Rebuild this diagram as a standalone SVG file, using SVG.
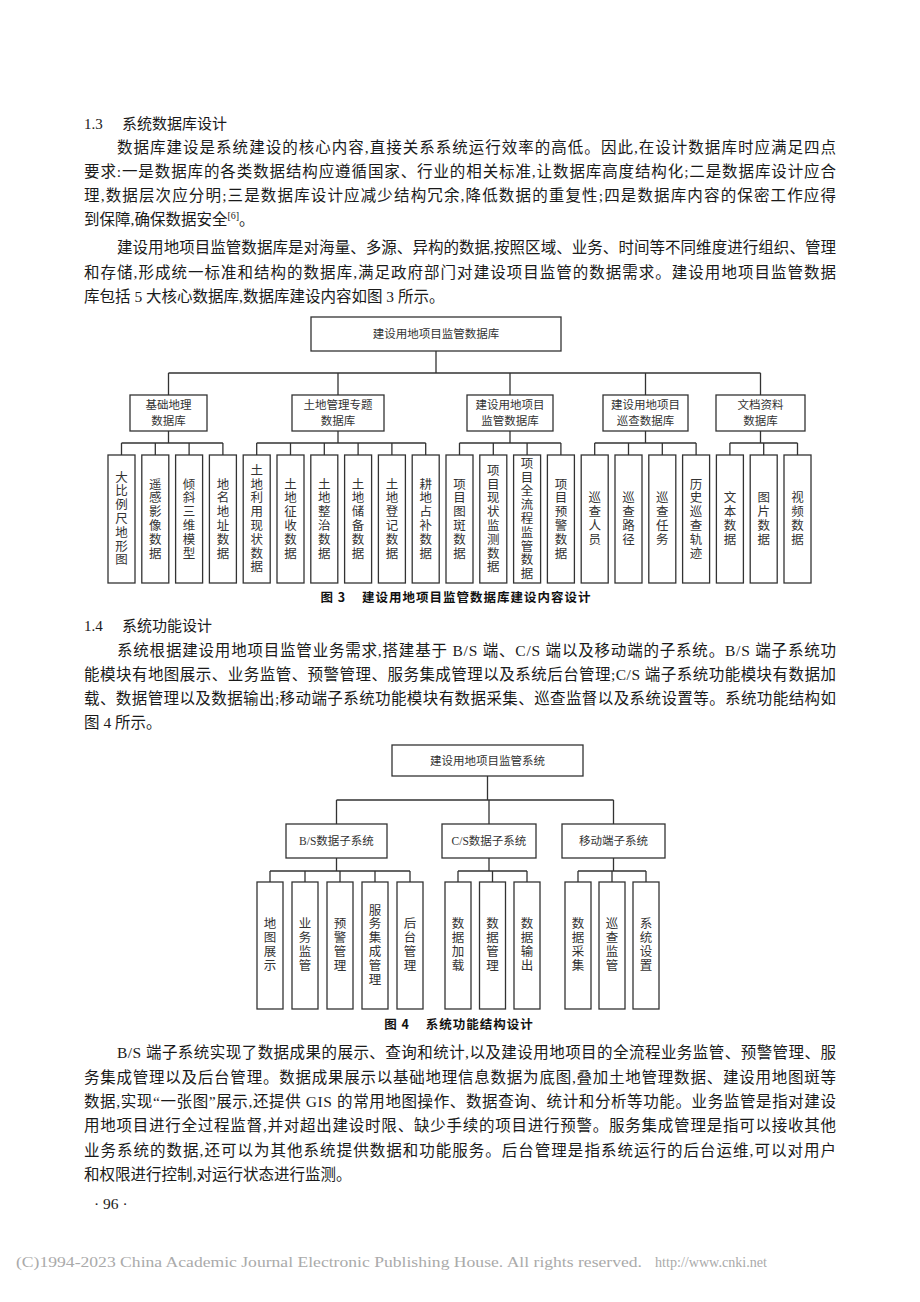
<svg xmlns="http://www.w3.org/2000/svg" width="920" height="1302" viewBox="0 0 920 1302">
<style>
.b{font-family:"Liberation Serif","Noto Sans CJK SC",serif;font-size:15.5px;fill:#1a1a1a}
.h{font-family:"Liberation Serif","Noto Sans CJK SC",serif;font-size:15px;fill:#1a1a1a}
.bx{fill:#fff;stroke:#333;stroke-width:1.3}
.ln{fill:none;stroke:#333;stroke-width:1.3}
.t{font-family:"Liberation Serif","Noto Sans CJK SC",serif;font-size:11.5px;fill:#333;text-anchor:middle}
.v{font-family:"Noto Sans CJK SC",sans-serif;font-size:12.5px;fill:#333;text-anchor:middle;writing-mode:vertical-rl;letter-spacing:1.3px}
.cap{font-family:"Noto Sans CJK SC",sans-serif;font-size:12.5px;font-weight:bold;fill:#111;text-anchor:middle;letter-spacing:1px}
.f{font-family:"Liberation Serif",serif;font-size:15px;fill:#aaa}
</style>
<rect width="920" height="1302" fill="#fff"/>

<g id="text-13">
<text class="h" x="84" y="129">1.3<tspan x="122">系统数据库设计</tspan></text>
<text class="b" x="117" y="153" textLength="719" lengthAdjust="spacing">数据库建设是系统建设的核心内容,直接关系系统运行效率的高低。因此,在设计数据库时应满足四点</text>
<text class="b" x="84" y="177" textLength="752" lengthAdjust="spacing">要求:一是数据库的各类数据结构应遵循国家、行业的相关标准,让数据库高度结构化;二是数据库设计应合</text>
<text class="b" x="84" y="201" textLength="752" lengthAdjust="spacing">理,数据层次应分明;三是数据库设计应减少结构冗余,降低数据的重复性;四是数据库内容的保密工作应得</text>
<text class="b" x="84" y="225">到保障,确保数据安全<tspan font-size="10" dy="-6">[6]</tspan><tspan dy="6">。</tspan></text>
<text class="b" x="117" y="253" textLength="719" lengthAdjust="spacing">建设用地项目监管数据库是对海量、多源、异构的数据,按照区域、业务、时间等不同维度进行组织、管理</text>
<text class="b" x="84" y="278" textLength="752" lengthAdjust="spacing">和存储,形成统一标准和结构的数据库,满足政府部门对建设项目监管的数据需求。建设用地项目监管数据</text>
<text class="b" x="84" y="302">库包括 5 大核心数据库,数据库建设内容如图 3 所示。</text>
</g>

<g id="connectors-fig3">
<path class="ln" d="M436 351V373M168.5 373H760.5M168.5 373V395M338 373V395M510 373V395M645.5 373V395M760.5 373V395"/>
<path class="ln" d="M168.5 431V443M121.5 443H222.9M121.5 443V455M155.3 443V455M189.1 443V455M222.9 443V455"/>
<path class="ln" d="M338 431V443M256.7 443H425.7M256.7 443V455M290.5 443V455M324.3 443V455M358.1 443V455M391.9 443V455M425.7 443V455"/>
<path class="ln" d="M510 431V443M459.5 443H560.9M459.5 443V455M493.3 443V455M527.1 443V455M560.9 443V455"/>
<path class="ln" d="M645.5 431V443M594.7 443H696.1M594.7 443V455M628.5 443V455M662.3 443V455M696.1 443V455"/>
<path class="ln" d="M760.5 431V443M729.9 443H797.5M729.9 443V455M763.7 443V455M797.5 443V455"/>
</g>

<g id="f3-root"><rect class="bx" x="311" y="317" width="250" height="34"/><text class="t" x="436" y="338">建设用地项目监管数据库</text></g>
<g id="f3-jcdl"><rect class="bx" x="130" y="395" width="77" height="36"/><text class="t" x="168.5" y="409">基础地理</text><text class="t" x="168.5" y="425">数据库</text></g>
<g id="f3-tdgl"><rect class="bx" x="292" y="395" width="92" height="36"/><text class="t" x="338" y="409">土地管理专题</text><text class="t" x="338" y="425">数据库</text></g>
<g id="f3-jgsjk"><rect class="bx" x="467" y="395" width="86" height="36"/><text class="t" x="510" y="409">建设用地项目</text><text class="t" x="510" y="425">监管数据库</text></g>
<g id="f3-xcsjk"><rect class="bx" x="603" y="395" width="85" height="36"/><text class="t" x="645.5" y="409">建设用地项目</text><text class="t" x="645.5" y="425">巡查数据库</text></g>
<g id="f3-wdzl"><rect class="bx" x="716" y="395" width="89" height="36"/><text class="t" x="760.5" y="409">文档资料</text><text class="t" x="760.5" y="425">数据库</text></g>

<g id="f3-l1"><rect class="bx" x="108" y="455" width="27" height="128"/><text class="v" x="121.5" y="519">大比例尺地形图</text></g>
<g id="f3-l2"><rect class="bx" x="141.8" y="455" width="27" height="128"/><text class="v" x="155.3" y="519">遥感影像数据</text></g>
<g id="f3-l3"><rect class="bx" x="175.6" y="455" width="27" height="128"/><text class="v" x="189.1" y="519">倾斜三维模型</text></g>
<g id="f3-l4"><rect class="bx" x="209.4" y="455" width="27" height="128"/><text class="v" x="222.9" y="519">地名地址数据</text></g>
<g id="f3-l5"><rect class="bx" x="243.2" y="455" width="27" height="128"/><text class="v" x="256.7" y="519">土地利用现状数据</text></g>
<g id="f3-l6"><rect class="bx" x="277" y="455" width="27" height="128"/><text class="v" x="290.5" y="519">土地征收数据</text></g>
<g id="f3-l7"><rect class="bx" x="310.8" y="455" width="27" height="128"/><text class="v" x="324.3" y="519">土地整治数据</text></g>
<g id="f3-l8"><rect class="bx" x="344.6" y="455" width="27" height="128"/><text class="v" x="358.1" y="519">土地储备数据</text></g>
<g id="f3-l9"><rect class="bx" x="378.4" y="455" width="27" height="128"/><text class="v" x="391.9" y="519">土地登记数据</text></g>
<g id="f3-l10"><rect class="bx" x="412.2" y="455" width="27" height="128"/><text class="v" x="425.7" y="519">耕地占补数据</text></g>
<g id="f3-l11"><rect class="bx" x="446" y="455" width="27" height="128"/><text class="v" x="459.5" y="519">项目图斑数据</text></g>
<g id="f3-l12"><rect class="bx" x="479.8" y="455" width="27" height="128"/><text class="v" x="493.3" y="519">项目现状监测数据</text></g>
<g id="f3-l13"><rect class="bx" x="513.6" y="455" width="27" height="128"/><text class="v" x="527.1" y="519">项目全流程监管数据</text></g>
<g id="f3-l14"><rect class="bx" x="547.4" y="455" width="27" height="128"/><text class="v" x="560.9" y="519">项目预警数据</text></g>
<g id="f3-l15"><rect class="bx" x="581.2" y="455" width="27" height="128"/><text class="v" x="594.7" y="519">巡查人员</text></g>
<g id="f3-l16"><rect class="bx" x="615" y="455" width="27" height="128"/><text class="v" x="628.5" y="519">巡查路径</text></g>
<g id="f3-l17"><rect class="bx" x="648.8" y="455" width="27" height="128"/><text class="v" x="662.3" y="519">巡查任务</text></g>
<g id="f3-l18"><rect class="bx" x="682.6" y="455" width="27" height="128"/><text class="v" x="696.1" y="519">历史巡查轨迹</text></g>
<g id="f3-l19"><rect class="bx" x="716.4" y="455" width="27" height="128"/><text class="v" x="729.9" y="519">文本数据</text></g>
<g id="f3-l20"><rect class="bx" x="750.2" y="455" width="27" height="128"/><text class="v" x="763.7" y="519">图片数据</text></g>
<g id="f3-l21"><rect class="bx" x="784" y="455" width="27" height="128"/><text class="v" x="797.5" y="519">视频数据</text></g>

<text class="cap" x="456" y="602">图 3<tspan dx="16">建设用地项目监管数据库建设内容设计</tspan></text>

<g id="text-14">
<text class="h" x="84" y="631">1.4<tspan x="122">系统功能设计</tspan></text>
<text class="b" x="117" y="656" textLength="719" lengthAdjust="spacing">系统根据建设用地项目监管业务需求,搭建基于 B/S 端、C/S 端以及移动端的子系统。B/S 端子系统功</text>
<text class="b" x="84" y="680" textLength="752" lengthAdjust="spacing">能模块有地图展示、业务监管、预警管理、服务集成管理以及系统后台管理;C/S 端子系统功能模块有数据加</text>
<text class="b" x="84" y="704" textLength="752" lengthAdjust="spacing">载、数据管理以及数据输出;移动端子系统功能模块有数据采集、巡查监督以及系统设置等。系统功能结构如</text>
<text class="b" x="84" y="728">图 4 所示。</text>
</g>

<g id="connectors-fig4">
<path class="ln" d="M487.5 776V800M336.5 800H613.5M336.5 800V824M489 800V824M613.5 800V824"/>
<path class="ln" d="M336.5 858V871M270 871H410M270 871V882M305 871V882M340 871V882M375 871V882M410 871V882"/>
<path class="ln" d="M489 858V871M458 871H527M458 871V882M492.5 871V882M527 871V882"/>
<path class="ln" d="M613.5 858V871M578 871H646M578 871V882M612 871V882M646 871V882"/>
</g>

<g id="f4-root"><rect class="bx" x="392" y="745" width="191" height="31"/><text class="t" x="487.5" y="764.5">建设用地项目监管系统</text></g>
<g id="f4-bs"><rect class="bx" x="286" y="824" width="101" height="34"/><text class="t" x="336.5" y="845">B/S数据子系统</text></g>
<g id="f4-cs"><rect class="bx" x="442" y="824" width="94" height="34"/><text class="t" x="489" y="845">C/S数据子系统</text></g>
<g id="f4-yd"><rect class="bx" x="562" y="824" width="103" height="34"/><text class="t" x="613.5" y="845">移动端子系统</text></g>

<g id="f4-l1"><rect class="bx" x="257" y="882" width="26" height="127"/><text class="v" x="270" y="945">地图展示</text></g>
<g id="f4-l2"><rect class="bx" x="292" y="882" width="26" height="127"/><text class="v" x="305" y="945">业务监管</text></g>
<g id="f4-l3"><rect class="bx" x="327" y="882" width="26" height="127"/><text class="v" x="340" y="945">预警管理</text></g>
<g id="f4-l4"><rect class="bx" x="362" y="882" width="26" height="127"/><text class="v" x="375" y="945">服务集成管理</text></g>
<g id="f4-l5"><rect class="bx" x="397" y="882" width="26" height="127"/><text class="v" x="410" y="945">后台管理</text></g>
<g id="f4-l6"><rect class="bx" x="445" y="882" width="26" height="127"/><text class="v" x="458" y="945">数据加载</text></g>
<g id="f4-l7"><rect class="bx" x="479.5" y="882" width="26" height="127"/><text class="v" x="492.5" y="945">数据管理</text></g>
<g id="f4-l8"><rect class="bx" x="514" y="882" width="26" height="127"/><text class="v" x="527" y="945">数据输出</text></g>
<g id="f4-l9"><rect class="bx" x="565" y="882" width="26" height="127"/><text class="v" x="578" y="945">数据采集</text></g>
<g id="f4-l10"><rect class="bx" x="599" y="882" width="26" height="127"/><text class="v" x="612" y="945">巡查监管</text></g>
<g id="f4-l11"><rect class="bx" x="633" y="882" width="26" height="127"/><text class="v" x="646" y="945">系统设置</text></g>

<text class="cap" x="459" y="1029">图 4<tspan dx="16">系统功能结构设计</tspan></text>

<g id="text-bs">
<text class="b" x="117" y="1058" textLength="719" lengthAdjust="spacing">B/S 端子系统实现了数据成果的展示、查询和统计,以及建设用地项目的全流程业务监管、预警管理、服</text>
<text class="b" x="84" y="1083" textLength="752" lengthAdjust="spacing">务集成管理以及后台管理。数据成果展示以基础地理信息数据为底图,叠加土地管理数据、建设用地图斑等</text>
<text class="b" x="84" y="1107" textLength="752" lengthAdjust="spacing">数据,实现“一张图”展示,还提供 GIS 的常用地图操作、数据查询、统计和分析等功能。业务监管是指对建设</text>
<text class="b" x="84" y="1131" textLength="752" lengthAdjust="spacing">用地项目进行全过程监督,并对超出建设时限、缺少手续的项目进行预警。服务集成管理是指可以接收其他</text>
<text class="b" x="84" y="1156" textLength="752" lengthAdjust="spacing">业务系统的数据,还可以为其他系统提供数据和功能服务。后台管理是指系统运行的后台运维,可以对用户</text>
<text class="b" x="84" y="1180">和权限进行控制,对运行状态进行监测。</text>
<text class="b" x="94" y="1209">· 96 ·</text>
</g>

<g id="footer">
<text class="f" x="16" y="1267" textLength="626" lengthAdjust="spacingAndGlyphs">(C)1994-2023 China Academic Journal Electronic Publishing House. All rights reserved.</text>
<text class="f" x="655" y="1267" textLength="112" lengthAdjust="spacingAndGlyphs">http://www.cnki.net</text>
</g>
</svg>
